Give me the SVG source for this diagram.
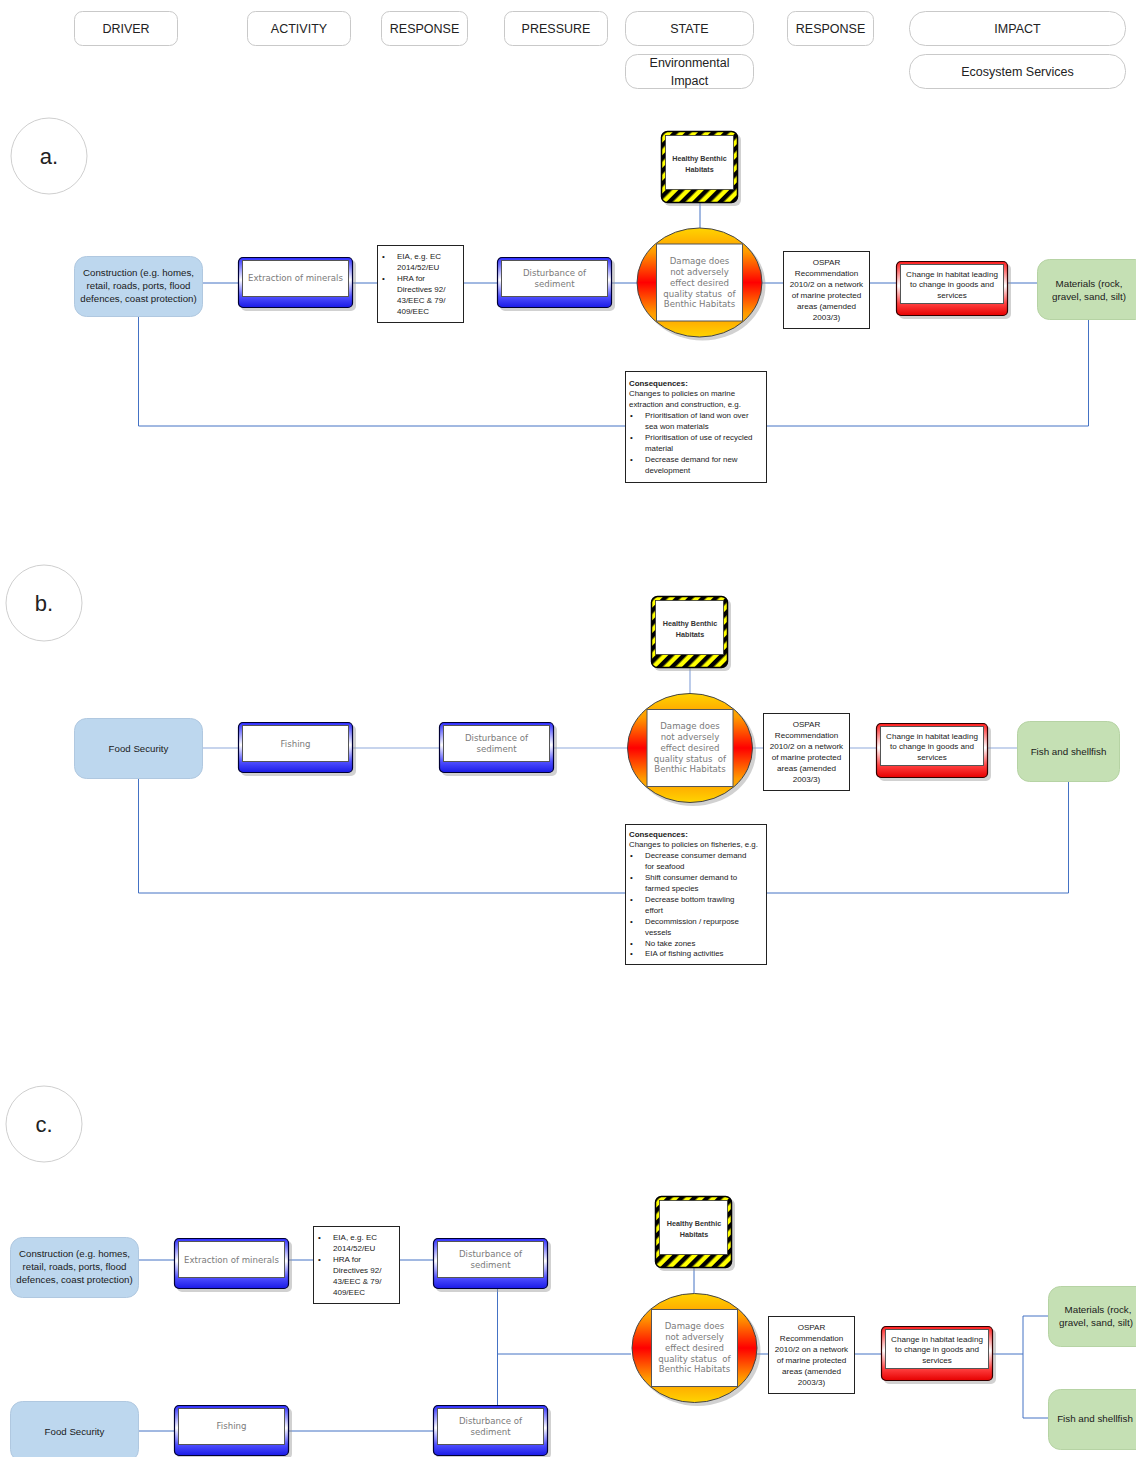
<svg xmlns="http://www.w3.org/2000/svg" width="1136" height="1457" viewBox="0 0 1136 1457">
  <style>
    .hdr { fill: #fff; stroke: #c9c9c9; stroke-width: 1; }
    .hdrt { font-family: "Liberation Sans", Arial, sans-serif; font-size: 12.5px; fill: #222; text-anchor: middle; }
    .lbl { fill: #fff; stroke: #cfcfcf; stroke-width: 1; }
    .lblt { font-family: "Liberation Sans", Arial, sans-serif; font-size: 22px; fill: #222; text-anchor: middle; }
    .drv { fill: #bdd7ee; stroke: #b0c8e0; stroke-width: 1; }
    .eco { fill: #c5e0b4; stroke: #b6d3a4; stroke-width: 1; }
    .drvt { font-family: "Liberation Sans", Arial, sans-serif; font-size: 9.7px; fill: #1a1a1a; text-anchor: middle; }
    .ecot { font-family: "Liberation Sans", Arial, sans-serif; font-size: 9.8px; fill: #1a1a1a; text-anchor: middle; }
    .gr { font-family: "DejaVu Sans", Verdana, sans-serif; font-size: 8.6px; fill: #7a7a7a; text-anchor: middle; }
    .box { fill: #fff; stroke: #222; stroke-width: 1; }
    .sm { font-family: "Liberation Sans", Arial, sans-serif; font-size: 8px; fill: #1a1a1a; }
    .smc { font-family: "Liberation Sans", Arial, sans-serif; font-size: 8.1px; fill: #1a1a1a; text-anchor: middle; }
    .hb { font-family: "Liberation Sans", Arial, sans-serif; font-size: 7.2px; font-weight: bold; fill: #333; text-anchor: middle; }
    .cons { font-family: "Liberation Sans", Arial, sans-serif; font-size: 7.9px; fill: #1a1a1a; }
    .b { font-weight: bold; }
    .ln { fill: none; stroke: #4472c4; stroke-width: 1; }
    .lnl { fill: none; stroke: #8faadc; stroke-width: 1.2; }
  </style>
  <defs>
    <linearGradient id="blueGrad" x1="0" y1="0" x2="0" y2="1">
      <stop offset="0" stop-color="#2a2aff"/>
      <stop offset="0.45" stop-color="#ffffff"/>
      <stop offset="0.78" stop-color="#5050ff"/>
      <stop offset="1" stop-color="#1a1ae6"/>
    </linearGradient>
    <linearGradient id="redGrad" x1="0" y1="0" x2="0" y2="1">
      <stop offset="0" stop-color="#ff1a1a"/>
      <stop offset="0.45" stop-color="#ffffff"/>
      <stop offset="0.78" stop-color="#ff4040"/>
      <stop offset="1" stop-color="#e60000"/>
    </linearGradient>
    <linearGradient id="stateGrad" x1="0" y1="0" x2="0" y2="1">
      <stop offset="0" stop-color="#ffd400"/>
      <stop offset="0.22" stop-color="#ff9a00"/>
      <stop offset="0.5" stop-color="#ff0000"/>
      <stop offset="0.78" stop-color="#ff9a00"/>
      <stop offset="1" stop-color="#ffd400"/>
    </linearGradient>
    <pattern id="hazard" width="9" height="9" patternUnits="userSpaceOnUse" patternTransform="rotate(45)">
      <rect width="9" height="9" fill="#ffff00"/>
      <rect width="4.5" height="9" fill="#000"/>
    </pattern>

    <!-- blue bevelled activity / pressure box, 115 x 51 -->
    <g id="bluebox">
      <rect x="3" y="3" width="115" height="51" rx="5" fill="#9a9a9a" opacity="0.45"/>
      <rect x="0.5" y="0.5" width="114" height="50" rx="4.5" fill="url(#blueGrad)" stroke="#000033" stroke-width="1.2"/>
      <rect x="4.5" y="3.5" width="106" height="36" fill="#fff" stroke="#555" stroke-width="1"/>
    </g>
    <!-- red bevelled impact box, 112 x 55 -->
    <g id="redbox">
      <rect x="3" y="3" width="112" height="55" rx="5" fill="#9a9a9a" opacity="0.45"/>
      <rect x="0.5" y="0.5" width="111" height="54" rx="4.5" fill="url(#redGrad)" stroke="#330000" stroke-width="1.2"/>
      <rect x="4.5" y="3.5" width="103" height="39" fill="#fff" stroke="#555" stroke-width="1"/>
    </g>
    <!-- hazard-striped target state box, 77 x 72 -->
    <g id="hazbox">
      <rect x="3" y="3" width="77" height="72" rx="6" fill="#9a9a9a" opacity="0.45"/>
      <rect x="0.5" y="0.5" width="76" height="71" rx="6" fill="url(#hazard)" stroke="#000" stroke-width="1.5"/>
      <rect x="4.5" y="4.5" width="68" height="54" fill="#fff" stroke="#333" stroke-width="0.8"/>
    </g>
    <!-- state ellipse with inner panel, centred on 0,0 -->
    <g id="state">
      <ellipse cx="3" cy="3" rx="63" ry="55" fill="#9a9a9a" opacity="0.45"/>
      <ellipse cx="0" cy="0" rx="62.5" ry="54.5" fill="url(#stateGrad)" stroke="#444" stroke-width="1"/>
      <rect x="-43" y="-38.5" width="86" height="77" fill="#fff" stroke="#555" stroke-width="1"/>
    </g>
  </defs>

  <rect width="1136" height="1457" fill="#fff"/>

  <!-- column headings -->
  <g id="headers">
    <g id="h-driver"><rect class="hdr" x="74.5" y="11.5" width="103" height="34" rx="8"/><text class="hdrt" x="126" y="33">DRIVER</text></g>
    <g id="h-activity"><rect class="hdr" x="247.5" y="11.5" width="103" height="34" rx="8"/><text class="hdrt" x="299" y="33">ACTIVITY</text></g>
    <g id="h-response1"><rect class="hdr" x="381.5" y="11.5" width="86" height="34" rx="8"/><text class="hdrt" x="424.5" y="33">RESPONSE</text></g>
    <g id="h-pressure"><rect class="hdr" x="504.5" y="11.5" width="103" height="34" rx="8"/><text class="hdrt" x="556" y="33">PRESSURE</text></g>
    <g id="h-state"><rect class="hdr" x="625.5" y="11.5" width="128" height="34" rx="12"/><text class="hdrt" x="689.5" y="33">STATE</text></g>
    <g id="h-envimpact"><rect class="hdr" x="625.5" y="54.5" width="128" height="34" rx="12"/><text class="hdrt" x="689.5" y="67">Environmental</text><text class="hdrt" x="689.5" y="85">Impact</text></g>
    <g id="h-response2"><rect class="hdr" x="787.5" y="11.5" width="86" height="34" rx="8"/><text class="hdrt" x="830.5" y="33">RESPONSE</text></g>
    <g id="h-impact"><rect class="hdr" x="909.5" y="11.5" width="216" height="34" rx="16"/><text class="hdrt" x="1017.5" y="33">IMPACT</text></g>
    <g id="h-ecoserv"><rect class="hdr" x="909.5" y="54.5" width="216" height="34" rx="16"/><text class="hdrt" x="1017.5" y="76">Ecosystem Services</text></g>
  </g>

  <!-- connectors -->
  <g id="connectors">
    <!-- a. -->
    <path class="ln" d="M203 283H238 M353 283H377 M463 283H497 M612 283H637 M762 283H783 M869 283H896 M1008 283H1037 M700 203V228"/>
    <path class="ln" d="M138.5 316V426H625 M766 426H1088.5V320"/>
    <!-- b. -->
    <path class="lnl" d="M203 748H238 M353 748H439 M554 748H627 M753 748H763 M849 748H876 M988 748H1017 M690 668V693"/>
    <path class="ln" d="M138.5 779V893H625 M766 893H1068.5V781"/>
    <!-- c. -->
    <path class="ln" d="M139 1260H174 M289 1260H313 M399 1260H433 M139 1431H174 M289 1431H433 M497.5 1289V1405 M497.5 1354H631 M694 1268V1293"/>
    <path class="ln" d="M757 1354H768 M854 1354H881 M993 1354H1023 M1023 1316V1418 M1023 1316H1048 M1023 1418H1048"/>
  </g>

  <!-- section labels -->
  <g id="label-a"><circle class="lbl" cx="49" cy="156" r="38"/><text class="lblt" x="49" y="164">a.</text></g>
  <g id="label-b"><circle class="lbl" cx="44" cy="603" r="38"/><text class="lblt" x="44" y="611">b.</text></g>
  <g id="label-c"><circle class="lbl" cx="44" cy="1124" r="38"/><text class="lblt" x="44" y="1132">c.</text></g>

  <!-- ===== a. ===== -->
  <g id="a-construction">
    <rect class="drv" x="74.5" y="256.5" width="128" height="60" rx="12"/>
    <text class="drvt" x="138.5" y="275.5">Construction (e.g. homes,</text>
    <text class="drvt" x="138.5" y="288.5">retail, roads, ports, flood</text>
    <text class="drvt" x="138.5" y="301.5">defences, coast protection)</text>
  </g>
  <g id="a-extraction">
    <use href="#bluebox" x="238" y="257"/>
    <text class="gr" x="295.5" y="281">Extraction of minerals</text>
  </g>
  <g id="a-eia">
    <rect class="box" x="377.5" y="245.5" width="86" height="77"/>
    <text class="sm" x="382" y="258.5">•</text><text class="sm" x="397" y="258.5">EIA, e.g. EC</text>
    <text class="sm" x="397" y="269.5">2014/52/EU</text>
    <text class="sm" x="382" y="280.5">•</text><text class="sm" x="397" y="280.5">HRA for</text>
    <text class="sm" x="397" y="291.5">Directives 92/</text>
    <text class="sm" x="397" y="302.5">43/EEC &amp; 79/</text>
    <text class="sm" x="397" y="313.5">409/EEC</text>
  </g>
  <g id="a-disturbance">
    <use href="#bluebox" x="497" y="257"/>
    <text class="gr" x="554.5" y="276">Disturbance of</text>
    <text class="gr" x="554.5" y="287">sediment</text>
  </g>
  <g id="a-healthy">
    <use href="#hazbox" x="661" y="131"/>
    <text class="hb" x="699.5" y="160.5">Healthy Benthic</text>
    <text class="hb" x="699.5" y="171.5">Habitats</text>
  </g>
  <g id="a-state">
    <use href="#state" x="699.5" y="282.5"/>
    <text class="gr" x="699.5" y="264">Damage does</text>
    <text class="gr" x="699.5" y="275">not adversely</text>
    <text class="gr" x="699.5" y="285.5">effect desired</text>
    <text class="gr" x="699.5" y="296.5">quality status&#160; of</text>
    <text class="gr" x="699.5" y="307">Benthic Habitats</text>
  </g>
  <g id="a-ospar">
    <rect class="box" x="783.5" y="251.5" width="86" height="77"/>
    <text class="smc" x="826.5" y="264.5">OSPAR</text>
    <text class="smc" x="826.5" y="275.5">Recommendation</text>
    <text class="smc" x="826.5" y="286.5">2010/2 on a network</text>
    <text class="smc" x="826.5" y="297.5">of marine protected</text>
    <text class="smc" x="826.5" y="308.5">areas (amended</text>
    <text class="smc" x="826.5" y="319.5">2003/3)</text>
  </g>
  <g id="a-change">
    <use href="#redbox" x="896" y="261"/>
    <text class="smc" x="952" y="276.5">Change in habitat leading</text>
    <text class="smc" x="952" y="287">to change in goods and</text>
    <text class="smc" x="952" y="297.5">services</text>
  </g>
  <g id="a-materials">
    <rect class="eco" x="1037.5" y="259.5" width="110" height="60" rx="12"/>
    <text class="ecot" x="1089" y="286.5">Materials (rock,</text>
    <text class="ecot" x="1089" y="299.5">gravel, sand, silt)</text>
  </g>
  <g id="a-consequences">
    <rect class="box" x="625.5" y="371.5" width="141" height="111"/>
    <text class="cons b" x="629" y="385.5">Consequences:</text>
    <text class="cons" x="629" y="396.4">Changes to policies on marine</text>
    <text class="cons" x="629" y="407.3">extraction and construction, e.g.</text>
    <text class="cons" x="630" y="418.2">•</text><text class="cons" x="645" y="418.2">Prioritisation of land won over</text>
    <text class="cons" x="645" y="429.1">sea won materials</text>
    <text class="cons" x="630" y="440">•</text><text class="cons" x="645" y="440">Prioritisation of use of recycled</text>
    <text class="cons" x="645" y="450.9">material</text>
    <text class="cons" x="630" y="461.8">•</text><text class="cons" x="645" y="461.8">Decrease demand for new</text>
    <text class="cons" x="645" y="472.7">development</text>
  </g>

  <!-- ===== b. ===== -->
  <g id="b-food">
    <rect class="drv" x="74.5" y="718.5" width="128" height="60" rx="12"/>
    <text class="drvt" x="138.5" y="751.5">Food Security</text>
  </g>
  <g id="b-fishing">
    <use href="#bluebox" x="238" y="722"/>
    <text class="gr" x="295.5" y="747">Fishing</text>
  </g>
  <g id="b-disturbance">
    <use href="#bluebox" x="439" y="722"/>
    <text class="gr" x="496.5" y="741">Disturbance of</text>
    <text class="gr" x="496.5" y="752">sediment</text>
  </g>
  <g id="b-healthy">
    <use href="#hazbox" x="651" y="596"/>
    <text class="hb" x="690" y="625.5">Healthy Benthic</text>
    <text class="hb" x="690" y="636.5">Habitats</text>
  </g>
  <g id="b-state">
    <use href="#state" x="690" y="748"/>
    <text class="gr" x="690" y="729">Damage does</text>
    <text class="gr" x="690" y="740">not adversely</text>
    <text class="gr" x="690" y="750.5">effect desired</text>
    <text class="gr" x="690" y="761.5">quality status&#160; of</text>
    <text class="gr" x="690" y="772">Benthic Habitats</text>
  </g>
  <g id="b-ospar">
    <rect class="box" x="763.5" y="713.5" width="86" height="77"/>
    <text class="smc" x="806.5" y="726.5">OSPAR</text>
    <text class="smc" x="806.5" y="737.5">Recommendation</text>
    <text class="smc" x="806.5" y="748.5">2010/2 on a network</text>
    <text class="smc" x="806.5" y="759.5">of marine protected</text>
    <text class="smc" x="806.5" y="770.5">areas (amended</text>
    <text class="smc" x="806.5" y="781.5">2003/3)</text>
  </g>
  <g id="b-change">
    <use href="#redbox" x="876" y="723"/>
    <text class="smc" x="932" y="738.5">Change in habitat leading</text>
    <text class="smc" x="932" y="749">to change in goods and</text>
    <text class="smc" x="932" y="759.5">services</text>
  </g>
  <g id="b-fish">
    <rect class="eco" x="1017.5" y="721.5" width="102" height="60" rx="12"/>
    <text class="ecot" x="1068.5" y="755">Fish and shellfish</text>
  </g>
  <g id="b-consequences">
    <rect class="box" x="625.5" y="824.5" width="141" height="140"/>
    <text class="cons b" x="629" y="836.5">Consequences:</text>
    <text class="cons" x="629" y="847.4">Changes to policies on fisheries, e.g.</text>
    <text class="cons" x="630" y="858.3">•</text><text class="cons" x="645" y="858.3">Decrease consumer demand</text>
    <text class="cons" x="645" y="869.2">for seafood</text>
    <text class="cons" x="630" y="880.1">•</text><text class="cons" x="645" y="880.1">Shift consumer demand to</text>
    <text class="cons" x="645" y="891">farmed species</text>
    <text class="cons" x="630" y="901.9">•</text><text class="cons" x="645" y="901.9">Decrease bottom trawling</text>
    <text class="cons" x="645" y="912.8">effort</text>
    <text class="cons" x="630" y="923.7">•</text><text class="cons" x="645" y="923.7">Decommission / repurpose</text>
    <text class="cons" x="645" y="934.6">vessels</text>
    <text class="cons" x="630" y="945.5">•</text><text class="cons" x="645" y="945.5">No take zones</text>
    <text class="cons" x="630" y="956.4">•</text><text class="cons" x="645" y="956.4">EIA of fishing activities</text>
  </g>

  <!-- ===== c. ===== -->
  <g id="c-construction">
    <rect class="drv" x="10.5" y="1237.5" width="128" height="60" rx="12"/>
    <text class="drvt" x="74.5" y="1256.5">Construction (e.g. homes,</text>
    <text class="drvt" x="74.5" y="1269.5">retail, roads, ports, flood</text>
    <text class="drvt" x="74.5" y="1282.5">defences, coast protection)</text>
  </g>
  <g id="c-extraction">
    <use href="#bluebox" x="174" y="1238"/>
    <text class="gr" x="231.5" y="1263">Extraction of minerals</text>
  </g>
  <g id="c-eia">
    <rect class="box" x="313.5" y="1226.5" width="86" height="77"/>
    <text class="sm" x="318" y="1239.5">•</text><text class="sm" x="333" y="1239.5">EIA, e.g. EC</text>
    <text class="sm" x="333" y="1250.5">2014/52/EU</text>
    <text class="sm" x="318" y="1261.5">•</text><text class="sm" x="333" y="1261.5">HRA for</text>
    <text class="sm" x="333" y="1272.5">Directives 92/</text>
    <text class="sm" x="333" y="1283.5">43/EEC &amp; 79/</text>
    <text class="sm" x="333" y="1294.5">409/EEC</text>
  </g>
  <g id="c-disturbance1">
    <use href="#bluebox" x="433" y="1238"/>
    <text class="gr" x="490.5" y="1257">Disturbance of</text>
    <text class="gr" x="490.5" y="1268">sediment</text>
  </g>
  <g id="c-food">
    <rect class="drv" x="10.5" y="1401.5" width="128" height="60" rx="12"/>
    <text class="drvt" x="74.5" y="1434.5">Food Security</text>
  </g>
  <g id="c-fishing">
    <use href="#bluebox" x="174" y="1405"/>
    <text class="gr" x="231.5" y="1429">Fishing</text>
  </g>
  <g id="c-disturbance2">
    <use href="#bluebox" x="433" y="1405"/>
    <text class="gr" x="490.5" y="1424">Disturbance of</text>
    <text class="gr" x="490.5" y="1435">sediment</text>
  </g>
  <g id="c-healthy">
    <use href="#hazbox" x="655" y="1196"/>
    <text class="hb" x="694" y="1225.5">Healthy Benthic</text>
    <text class="hb" x="694" y="1236.5">Habitats</text>
  </g>
  <g id="c-state">
    <use href="#state" x="694.5" y="1348"/>
    <text class="gr" x="694.5" y="1329">Damage does</text>
    <text class="gr" x="694.5" y="1340">not adversely</text>
    <text class="gr" x="694.5" y="1350.5">effect desired</text>
    <text class="gr" x="694.5" y="1361.5">quality status&#160; of</text>
    <text class="gr" x="694.5" y="1372">Benthic Habitats</text>
  </g>
  <g id="c-ospar">
    <rect class="box" x="768.5" y="1316.5" width="86" height="77"/>
    <text class="smc" x="811.5" y="1329.5">OSPAR</text>
    <text class="smc" x="811.5" y="1340.5">Recommendation</text>
    <text class="smc" x="811.5" y="1351.5">2010/2 on a network</text>
    <text class="smc" x="811.5" y="1362.5">of marine protected</text>
    <text class="smc" x="811.5" y="1373.5">areas (amended</text>
    <text class="smc" x="811.5" y="1384.5">2003/3)</text>
  </g>
  <g id="c-change">
    <use href="#redbox" x="881" y="1326"/>
    <text class="smc" x="937" y="1341.5">Change in habitat leading</text>
    <text class="smc" x="937" y="1352">to change in goods and</text>
    <text class="smc" x="937" y="1362.5">services</text>
  </g>
  <g id="c-materials">
    <rect class="eco" x="1048.5" y="1286.5" width="110" height="60" rx="12"/>
    <text class="ecot" x="1098" y="1312.5">Materials (rock,</text>
    <text class="ecot" x="1096" y="1325.5">gravel, sand, silt)</text>
  </g>
  <g id="c-fish">
    <rect class="eco" x="1048.5" y="1389.5" width="110" height="60" rx="12"/>
    <text class="ecot" x="1095" y="1421.5">Fish and shellfish</text>
  </g>
</svg>
